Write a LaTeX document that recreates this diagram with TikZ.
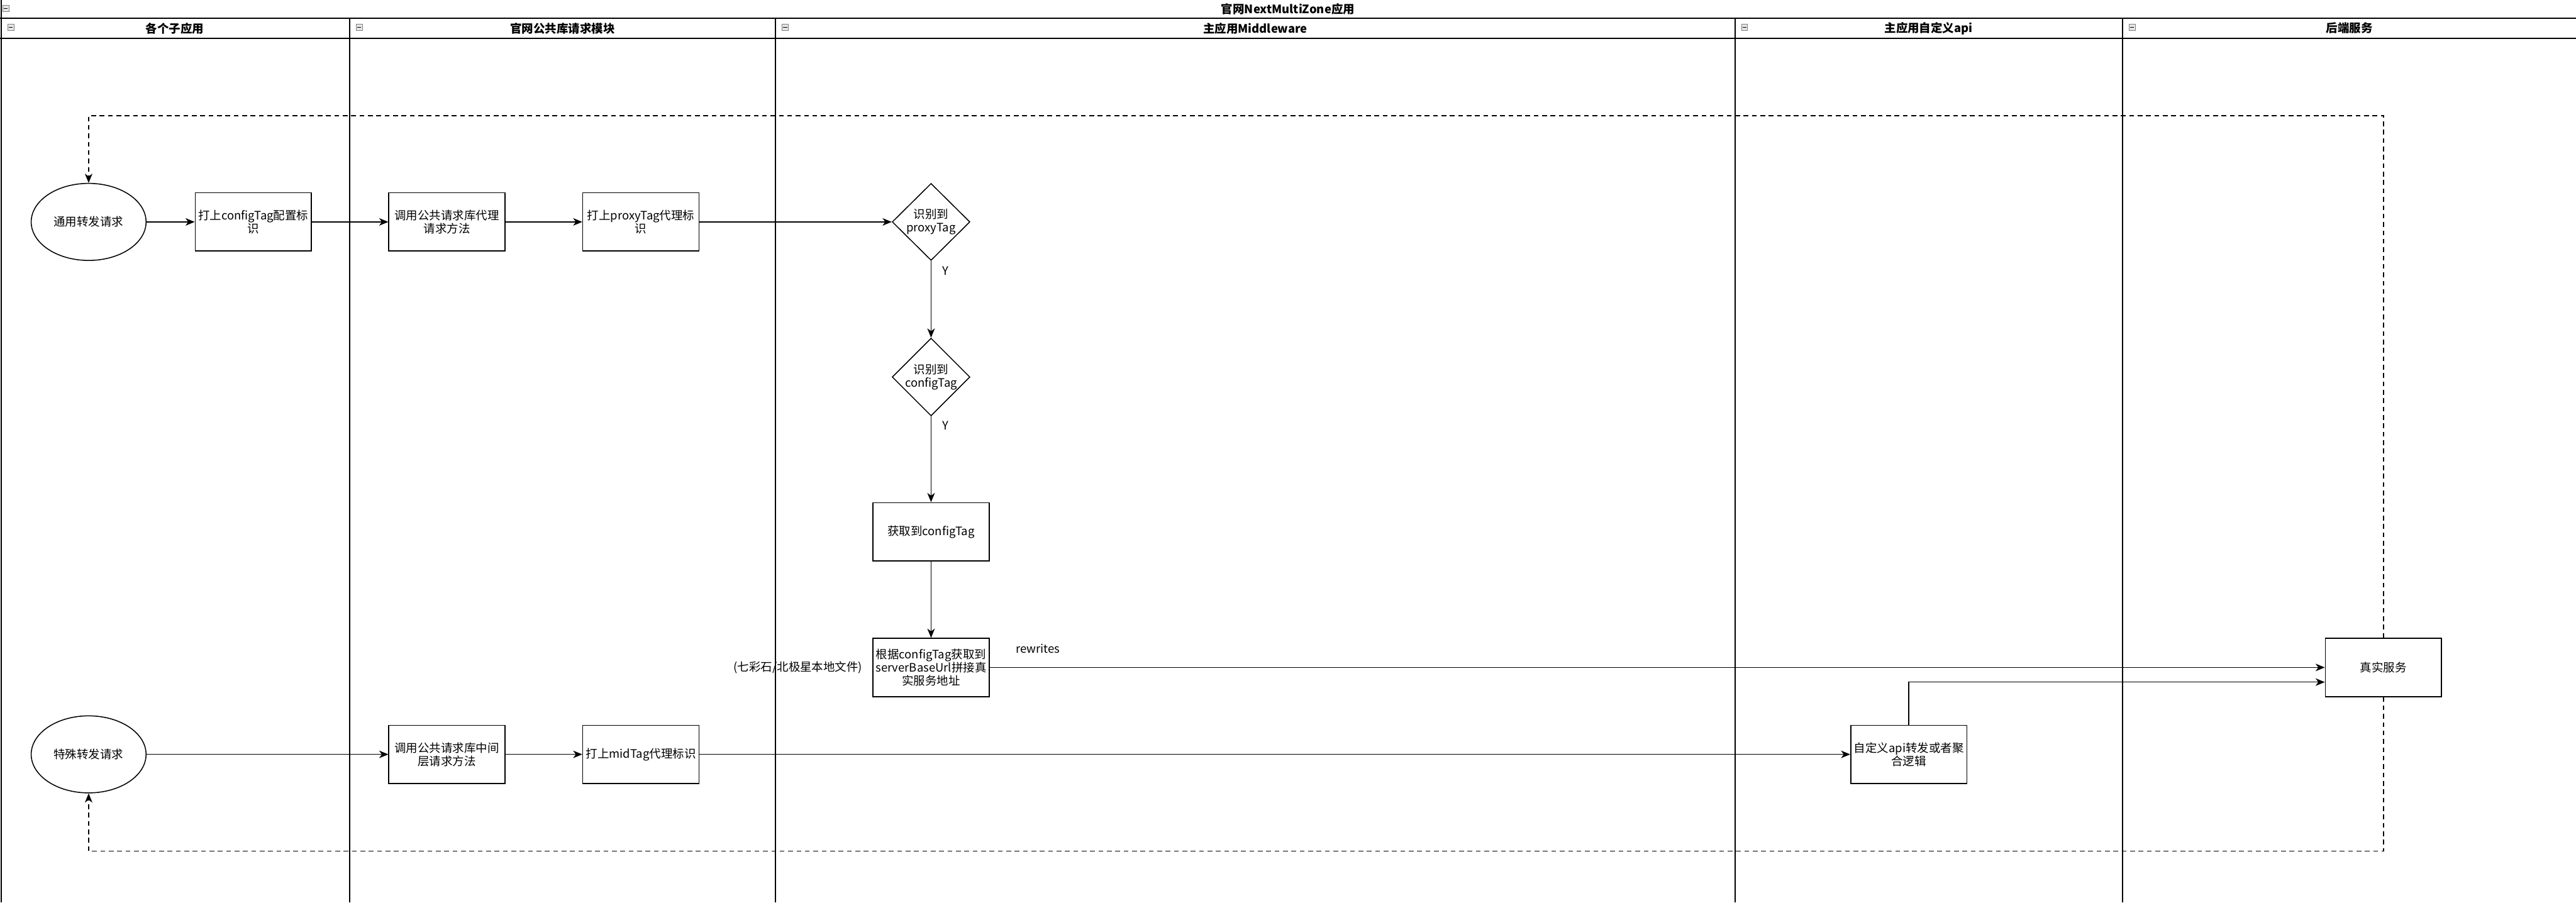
\documentclass[tikz,border=0pt]{standalone}
\usepackage{fontspec}
\setmainfont{Noto Sans CJK SC}
\usetikzlibrary{shapes.geometric,arrows.meta,positioning}

\begin{document}
\begin{tikzpicture}[x=1cm,y=-1cm,
  font=\fontsize{9.7pt}{11pt}\selectfont,
  >={Stealth[length=0.27cm,width=0.22cm,inset=0.08cm]},
  proc/.style={draw,line width=0.8pt,rectangle,minimum width=3.41cm,minimum height=1.71cm,align=center,inner sep=0pt},
  judge/.style={draw,line width=0.8pt,diamond,aspect=1,minimum width=2.28cm,minimum height=2.26cm,align=center,inner sep=0pt},
  startend/.style={draw,line width=0.8pt,ellipse,minimum width=3.37cm,minimum height=2.26cm,inner sep=0pt},
  flow/.style={->,line width=0.8pt},
  back/.style={->,line width=0.8pt,dash pattern=on 4pt off 3pt},
  lanehead/.style={font=\fontsize{9.7pt}{11pt}\selectfont\bfseries},
  foldbox/.style={draw=gray,fill=gray!20,minimum size=0.18cm,inner sep=0pt,line width=0.4pt}
]
\useasboundingbox (0,0) rectangle (75.56,26.48);

% pool frame and lanes
\draw[line width=1pt] (0.04,0) -- (0.04,26.48);
\draw[line width=1.2pt] (0,0.54) -- (75.56,0.54);
\draw[line width=1.2pt] (0,1.12) -- (75.56,1.12);
\foreach \x in {10.26,22.75,50.89,62.26}
  \draw[line width=0.9pt] (\x,0.54) -- (\x,26.48);

\node[lanehead] (pooltitle) at (37.78,0.27) {官网NextMultiZone应用};
\foreach \l/\cx/\txt in {1/5.13/各个子应用,2/16.50/官网公共库请求模块,3/36.82/主应用Middleware,4/56.57/主应用自定义api,5/68.91/后端服务}
  \node[lanehead] (lane\l) at (\cx,0.83) {\txt};

% fold icons
\node[foldbox] (foldpool) at (0.17,0.24) {};
\draw[line width=0.5pt] ([xshift=0.04cm]foldpool.west) -- ([xshift=-0.04cm]foldpool.east);
\foreach \l/\lx in {1/0.04,2/10.26,3/22.75,4/50.89,5/62.26}{
  \node[foldbox] (fold\l) at (\lx+0.28,0.80) {};
  \draw[line width=0.5pt] ([xshift=0.04cm]fold\l.west) -- ([xshift=-0.04cm]fold\l.east);
}

% nodes
\node[startend] (normalreq) at (2.60,6.51) {通用转发请求};
\node[proc] (tagconfig) at (7.43,6.51) {打上configTag配置标\\识};
\node[proc] (callproxy) at (13.11,6.51) {调用公共请求库代理\\请求方法};
\node[proc] (tagproxy) at (18.80,6.51) {打上proxyTag代理标\\识};
\node[judge] (hasproxy) at (27.31,6.51) {识别到\\proxyTag};
\node[judge] (hasconfig) at (27.31,11.06) {识别到\\configTag};
\node[proc] (getconfig) at (27.31,15.60) {获取到configTag};
\node[proc] (buildurl) at (27.31,19.58) {根据configTag获取到\\serverBaseUrl拼接真\\实服务地址};
\node[left=0.29cm of buildurl,inner sep=0pt] (localfile) {(七彩石/北极星本地文件)};
\node[startend] (specialreq) at (2.60,22.13) {特殊转发请求};
\node[proc] (callmid) at (13.11,22.13) {调用公共请求库中间\\层请求方法};
\node[proc] (tagmid) at (18.80,22.13) {打上midTag代理标识};
\node[proc] (customapi) at (55.99,22.13) {自定义api转发或者聚\\合逻辑};
\node[proc] (realsvc) at (69.91,19.58) {真实服务};

% connectors
\draw[flow] (normalreq) -- (tagconfig);
\draw[flow] (tagconfig) -- (callproxy);
\draw[flow] (callproxy) -- (tagproxy);
\draw[flow] (tagproxy) -- (hasproxy);
\draw[flow] (hasproxy) -- node[pos=0.13,right=0.2cm] (yes1) {Y} (hasconfig);
\draw[flow] (hasconfig) -- node[pos=0.11,right=0.2cm] (yes2) {Y} (getconfig);
\draw[flow] (getconfig) -- (buildurl);
\draw[flow] (buildurl) -- node[pos=0.036,yshift=0.56cm] (rewrites) {rewrites} (realsvc);
\draw[flow] (specialreq) -- (callmid);
\draw[flow] (callmid) -- (tagmid);
\draw[flow] (tagmid) -- (customapi);
\draw[flow] (customapi.north) |- ([yshift=-0.43cm]realsvc.west);

% return paths
\coordinate (toprail) at (69.91,3.39);
\coordinate (botrail) at (69.91,24.97);
\draw[back] (realsvc.north) -- (toprail) -| (normalreq.north);
\draw[back] (realsvc.south) -- (botrail) -| (specialreq.south);

\end{tikzpicture}
\end{document}
